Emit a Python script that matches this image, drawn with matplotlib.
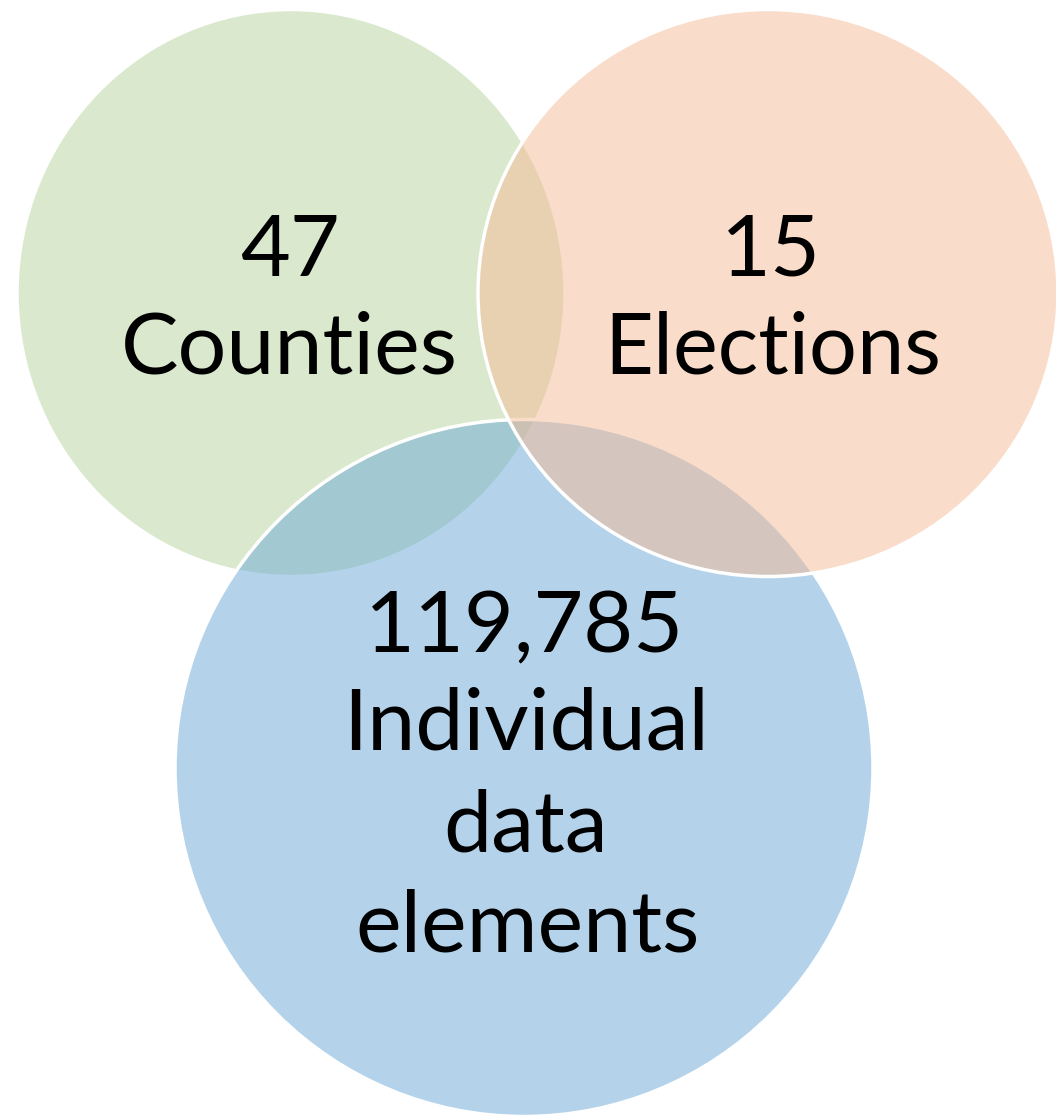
import matplotlib
matplotlib.use('Agg')
import matplotlib.pyplot as plt
from matplotlib.patches import Ellipse

# ellipse geometry (pixels, y down); drawn in this order: green, blue, orange
centers = [(291, 293), (524, 768), (768, 293)]
widths = [548, 698, 580]
heights = [567, 697, 567]
colors = ['#b7d59d', '#6ba9d7', '#f5bb95']   # drawn at 50% alpha

# text lines: (x, baseline y, text)
labels = ['47', 'Counties', '15', 'Elections', '119,785', 'Individual', 'data', 'elements']
label_x = [290, 289, 771, 773, 525, 526, 526, 528]
line_y = [276, 373, 276, 373, 652, 750, 851, 952]
sizes = [62, 62, 62, 61, 62, 62, 62, 62]

fig = plt.figure(figsize=(10.56, 11.19), dpi=100)
ax = fig.add_axes([0, 0, 1, 1])
ax.set_xlim(0, 1056)
ax.set_ylim(1119, 0)
ax.axis('off')

for c, w, h, col in zip(centers, widths, heights, colors):
    e = Ellipse(c, w, h, facecolor=matplotlib.colors.to_rgba(col, 0.5),
                edgecolor='white', linewidth=2.5)
    ax.add_patch(e)

for x, y, t, s in zip(label_x, line_y, labels, sizes):
    ax.text(x, y, t, ha='center', va='baseline', fontsize=s,
            family=['Lato', 'DejaVu Sans'], color='black')

fig.savefig('out.png', dpi=100)
